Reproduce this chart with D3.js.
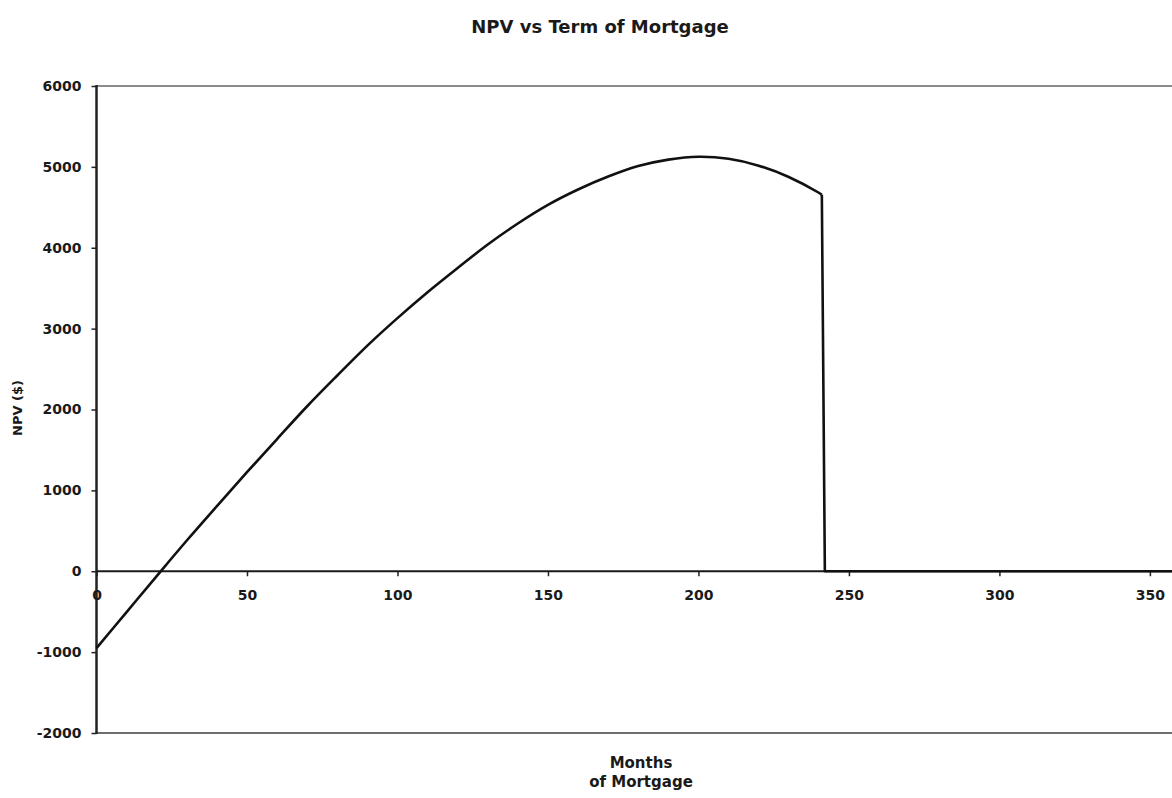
<!DOCTYPE html>
<html>
<head>
<meta charset="utf-8">
<script src="https://cdn.jsdelivr.net/npm/d3@7"></script>
<style>
  html, body { margin: 0; padding: 0; background: #fff; }
  svg { display: block; }
  text { font-family: "DejaVu Sans", "Liberation Sans", Arial, sans-serif; font-weight: bold; fill: #1a1a1a; }
</style>
</head>
<body>
<svg id="chart" width="1172" height="798"></svg>
<script>
// ---- data ----
const months = [0, 10, 20, 30, 40, 50, 60, 70, 80, 90, 100, 110, 120, 130, 140, 150, 160, 170, 180, 190, 200, 210, 220, 230, 240, 241, 242, 250, 260, 270, 280, 290, 300, 310, 320, 330, 340, 350, 360];
const npv    = [-950, -505, -60, 380, 805, 1225, 1635, 2040, 2420, 2790, 3130, 3450, 3750, 4040, 4300, 4530, 4720, 4880, 5010, 5090, 5125, 5100, 5015, 4875, 4680, 4655, 0, 0, 0, 0, 0, 0, 0, 0, 0, 0, 0, 0, 0];
const xTicks = [0, 50, 100, 150, 200, 250, 300, 350];
const yTicks = [-2000, -1000, 0, 1000, 2000, 3000, 4000, 5000, 6000];
const titleText = "NPV vs Term of Mortgage";
const xTitleLines = ["Months", "of Mortgage"];
const yTitleText = "NPV ($)";

const svg = d3.select("#chart");
const x = d3.scaleLinear().domain([0, 360]).range([96.5, 1180]);
const y = d3.scaleLinear().domain([-2000, 6000]).range([733, 86]);
const fmt = d => String(d).replace("\u2212", "-");

// frame lines (top and bottom of plot area)
svg.append("line").attr("x1", x(0)).attr("x2", 1172).attr("y1", y(6000)).attr("y2", y(6000))
  .attr("stroke", "#8c8c8c").attr("stroke-width", 2);
svg.append("line").attr("x1", x(0)).attr("x2", 1172).attr("y1", y(-2000)).attr("y2", y(-2000))
  .attr("stroke", "#6e6e6e").attr("stroke-width", 2);

// y axis
const yAxis = svg.append("g").attr("transform", `translate(${x(0)},0)`)
  .call(d3.axisLeft(y).tickValues(yTicks).tickSize(5).tickPadding(10).tickFormat(fmt));
yAxis.select(".domain").remove();
yAxis.selectAll(".tick line").attr("stroke", "#222").attr("stroke-width", 1.5);
yAxis.selectAll(".tick text").style("font-size", "14px").attr("fill", "#1a1a1a");
svg.append("line").attr("x1", x(0)).attr("x2", x(0)).attr("y1", y(6000) - 1).attr("y2", y(-2000) + 1)
  .attr("stroke", "#222").attr("stroke-width", 2.5);

// x axis at zero
const xAxis = svg.append("g").attr("transform", `translate(0,${y(0)})`)
  .call(d3.axisBottom(x).tickValues(xTicks).tickSize(5).tickPadding(14).tickFormat(fmt));
xAxis.select(".domain").remove();
xAxis.selectAll(".tick line").attr("stroke", "#222").attr("stroke-width", 1.5);
xAxis.selectAll(".tick text").style("font-size", "14px").attr("fill", "#1a1a1a");
svg.append("line").attr("x1", x(0)).attr("x2", 1172).attr("y1", y(0)).attr("y2", y(0))
  .attr("stroke", "#1a1a1a").attr("stroke-width", 2);

// the NPV curve: smooth while the term is valid, straight drop and flat tail afterwards
const data = months.map((m, i) => ({ m: m, v: npv[i] }));
const cut = months.indexOf(241);
const smooth = d3.line().x(d => x(d.m)).y(d => y(d.v)).curve(d3.curveCatmullRom.alpha(0.5));
const straight = d3.line().x(d => x(d.m)).y(d => y(d.v));
const g = svg.append("g").attr("fill", "none").attr("stroke", "#111").attr("stroke-width", 2.6)
  .attr("stroke-linejoin", "round");
g.append("path").attr("d", smooth(data.slice(0, cut + 1)));
g.append("path").attr("d", straight(data.slice(cut)));

// titles
svg.append("text").attr("x", 600).attr("y", 33).attr("text-anchor", "middle")
  .style("font-size", "18px").text(titleText);
svg.append("text").attr("text-anchor", "middle")
  .attr("transform", `translate(22,408) rotate(-90)`)
  .style("font-size", "13px").text(yTitleText);
svg.selectAll(".xtitle").data(xTitleLines).enter().append("text")
  .attr("class", "xtitle").attr("x", 641).attr("y", (d, i) => 768 + i * 19)
  .attr("text-anchor", "middle").style("font-size", "15px").text(d => d);
</script>
</body>
</html>
